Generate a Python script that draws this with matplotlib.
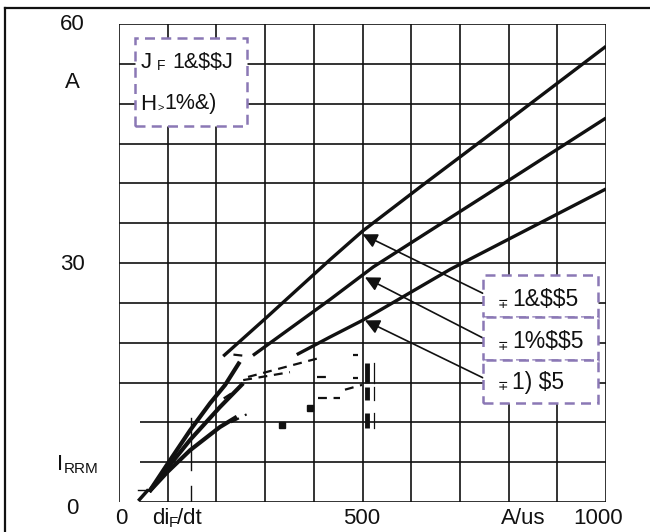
import matplotlib
matplotlib.use('Agg')
import matplotlib.pyplot as plt
from matplotlib.patches import Rectangle
from matplotlib.lines import Line2D

plt.rcParams['font.family'] = ['Liberation Sans', 'DejaVu Sans']

# ── data (A/us vs A) ─────────────────────────────────────────
top_hi_x = [214, 300, 433, 500, 624, 750, 875, 1000]
top_hi_y = [18.3, 23.0, 30.4, 34.0, 39.8, 45.6, 51.4, 57.2]
mid_hi_x = [275, 433, 522, 750, 1000]
mid_hi_y = [18.4, 25.4, 29.5, 38.4, 48.2]
bot_hi_x = [365, 433, 500, 680, 1000]
bot_hi_y = [18.5, 20.7, 22.8, 29.2, 39.3]

top_lo_x = [62, 101, 146, 187, 218, 248]
top_lo_y = [1.3, 4.9, 9.0, 12.4, 14.7, 17.6]
mid_lo_x = [62, 100, 146, 207, 255]
mid_lo_y = [1.3, 4.3, 7.8, 11.9, 14.9]
bot_lo_x = [62, 100, 146, 207, 242]
bot_lo_y = [1.3, 3.8, 6.5, 9.4, 10.7]

# scan debris (dashed fragments, blobs)
dash_x = [(265, 419), (255, 351), (235, 265), (407, 433), (409, 454), (480, 491), (480, 491), (464, 499), (215, 245), (230, 262)]
dash_y = [(15.7, 18.2), (15.3, 16.3), (18.5, 18.3), (15.7, 15.7), (13.1, 13.1), (18.4, 18.4), (15.6, 15.6), (14.1, 14.7), (13.0, 14.2), (10.0, 11.0)]
blob_x = [335, 392]
blob_y = [9.7, 11.8]
bar_x = 509
bar_y = [(14.9, 17.4), (12.8, 14.4), (9.3, 11.2)]

arrow_tip_x = [500, 505, 505]
arrow_tip_y = [33.6, 28.2, 22.8]
arrow_tail_x = [747, 747, 747]
arrow_tail_y = [26.2, 20.6, 15.6]
box_labels = ['1&$$5', '1%$$5', '1) $5']

x_ticks = [0, 500, 1000]
y_ticks = [0, 30, 60]

PURPLE = '#8B78B5'
INK = '#111111'

W, H = 650, 532
fig = plt.figure(figsize=(6.5, 5.32), dpi=100)
fig.patch.set_facecolor('white')

def fx(x):
    return x / W

def fy(y):
    return 1 - y / H

def label(x, y, s, size=16, **kw):
    kw.setdefault('ha', 'left')
    fig.text(fx(x), fy(y), s, fontsize=size, va='center', color=INK,
             parse_math=False, zorder=6, **kw)

ax = fig.add_axes([fx(119), fy(502), fx(606) - fx(119), fy(24) - fy(502)])
ax.set_xlim(0, 1000)
ax.set_ylim(0, 60)
ax.axis('off')

# outer frame
fig.add_artist(Line2D([fx(5), 1.0], [fy(8), fy(8)], color=INK, lw=1.6))
fig.add_artist(Line2D([fx(5), fx(5)], [0, fy(8)], color=INK, lw=1.6))

# grid
for yv in range(0, 61, 5):
    x0 = 43 if yv <= 10 else 0
    ax.plot([x0, 1000], [yv, yv], color=INK, lw=1.2, zorder=1, solid_capstyle='butt')
for xv in range(0, 1001, 100):
    ax.plot([xv, xv], [0, 60], color=INK, lw=1.2, zorder=1, solid_capstyle='butt')
ax.plot([148, 148], [0, 2.0], color=INK, lw=1.0, zorder=1)
ax.plot([148, 148], [4.0, 10.5], color=INK, lw=1.0, zorder=1)

# curves
for xs, ys in [(top_hi_x, top_hi_y), (mid_hi_x, mid_hi_y), (bot_hi_x, bot_hi_y)]:
    ax.plot(xs, ys, color=INK, lw=2.4, zorder=3, solid_capstyle='butt')
for xs, ys in [(top_lo_x, top_lo_y), (mid_lo_x, mid_lo_y), (bot_lo_x, bot_lo_y)]:
    ax.plot(xs, ys, color=INK, lw=3.0, zorder=3, solid_capstyle='butt')
ax.plot([42, 58], [0.3, 1.4], color=INK, lw=2.5, zorder=3)
ax.plot([40, 60], [1.5, 1.5], color=INK, lw=1.0, zorder=3)

for xs, ys in zip(dash_x, dash_y):
    ax.plot(xs, ys, color=INK, lw=1.6, ls=(0, (4, 3)), zorder=3)
ax.plot(blob_x, blob_y, 's', color=INK, ms=5, zorder=3)
for y0, y1 in bar_y:
    ax.plot([bar_x, bar_x], [y0, y1], color=INK, lw=3.5, zorder=3, solid_capstyle='butt')
    ax.plot([bar_x + 15, bar_x + 15], [y0, y1], color=INK, lw=0.9, zorder=3)

# arrows
for tx, ty, sx, sy in zip(arrow_tip_x, arrow_tip_y, arrow_tail_x, arrow_tail_y):
    ax.annotate('', xy=(tx, ty), xytext=(sx, sy), zorder=4,
                arrowprops=dict(arrowstyle='-|>', color=INK, lw=1.2,
                                mutation_scale=22, shrinkA=0, shrinkB=0))

# right legend boxes
box_tops = [275, 317, 360]
box_bots = [317, 360, 403]
text_y = [300, 342, 383]
for lbl, t, b, ty in zip(box_labels, box_tops, box_bots, text_y):
    fig.add_artist(Rectangle((fx(483), fy(b)), fx(598) - fx(483), fy(t) - fy(b),
                             facecolor='white', edgecolor=PURPLE, lw=1.8,
                             ls=(0, (4, 2.5)), zorder=5))
    label(503, ty + 4, '\u2213', size=9, ha='center', family=['DejaVu Sans'])
    label(512, ty, lbl, size=16.5)

# top-left box
fig.add_artist(Rectangle((fx(135), fy(126)), fx(247) - fx(135), fy(38) - fy(126),
                         facecolor='white', edgecolor=PURPLE, lw=1.8,
                         ls=(0, (4, 2.5)), zorder=5))
label(141, 62, 'J')
label(157, 66, 'F', size=10)
label(172, 62, '1&$$J', size=15.5)
label(140, 104, 'H')
label(157.5, 108, '>', size=8)
label(164, 104, '1%&)', size=15.5)

# axis labels
for v, yp in zip(y_ticks, [508, 265, 25]):
    label(72, yp, str(v), ha='center')
label(72, 82, 'A', ha='center')
label(57, 465, 'I')
label(64, 469, 'RRM', size=11)

for v, xp in zip(x_ticks, [121, 362, 598]):
    label(xp, 518, str(v), ha='center')
label(152, 518, 'di')
label(169, 523, 'F', size=11)
label(177, 518, '/dt')
label(523, 518, 'A/us', ha='center')

fig.savefig('out.png', dpi=100, facecolor='white')
